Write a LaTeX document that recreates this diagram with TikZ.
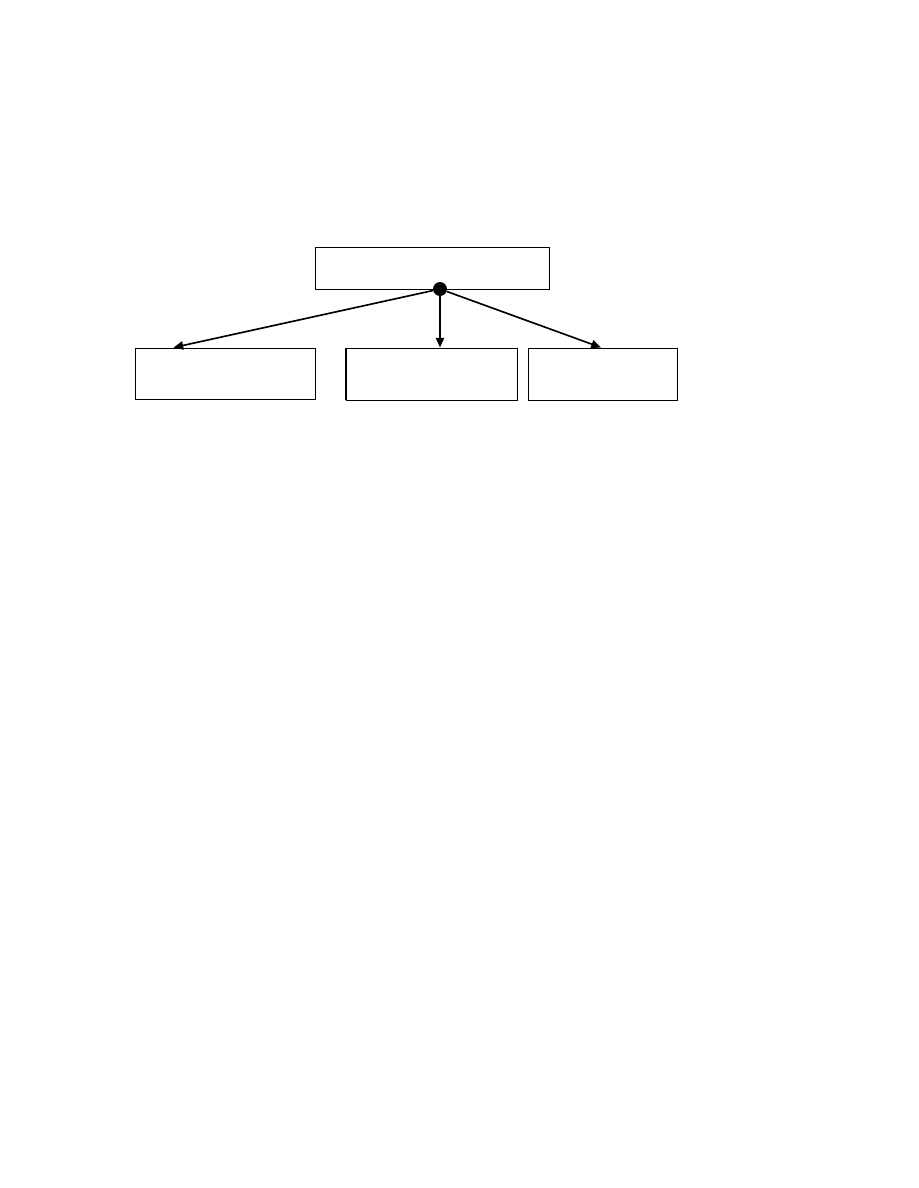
\documentclass[tikz,border=0pt]{standalone}
\usetikzlibrary{arrows.meta,calc}
\tikzset{
  box/.style={draw,line width=0.6pt,inner sep=0pt},
  link/.style={line width=1.1pt,-{Triangle[length=6.5pt,width=5.5pt]}}
}
\begin{document}
\begin{tikzpicture}[x=0.6667pt,y=-0.6667pt]
  \useasboundingbox (0,0) rectangle (918,1188);
  % boxes
  \node[box,minimum width=156pt,minimum height=28pt] (top) at (432,268) {};
  \node[box,minimum width=120pt,minimum height=34pt] (left) at (225,373.5) {};
  \node[box,minimum width=114pt,minimum height=34.7pt] (middle) at (431.5,374) {};
  \node[box,minimum width=99.3pt,minimum height=34.7pt] (right) at (602.5,374) {};
  \draw[line width=1pt] (middle.north west) -- (middle.south west);
  \node[circle,fill,minimum size=9.3pt,inner sep=0pt] (hub) at (440,289) {};
  % arrows
  \draw[link] (hub) -- ($(left.north west)!0.215!(left.north east)$);
  \draw[link] (hub) -- (hub |- middle.north);
  \draw[link] (hub) -- ($(right.north west)!0.49!(right.north east)$);
\end{tikzpicture}
\end{document}
